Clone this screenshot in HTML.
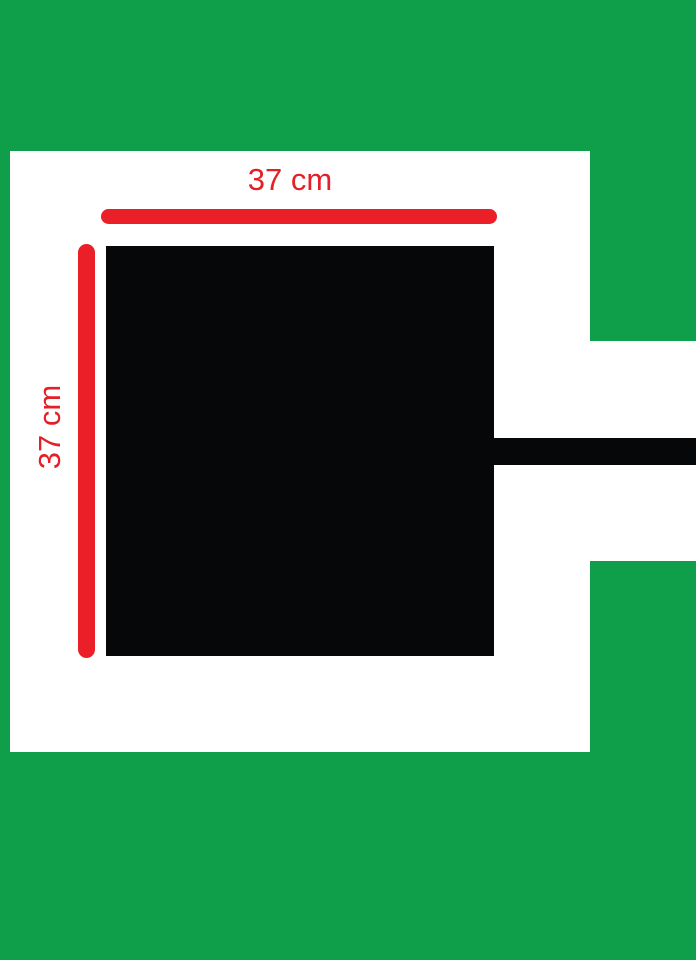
<!DOCTYPE html>
<html>
<head>
<meta charset="utf-8">
<style>
  html,body{margin:0;padding:0;}
  body{width:696px;height:960px;position:relative;overflow:hidden;background:#0f9f4b;font-family:"Liberation Sans",sans-serif;}
  .a{position:absolute;}
</style>
</head>
<body>
<div class="a" style="left:10px;top:151px;width:580px;height:601px;background:#fff;"></div>
<div class="a" style="left:589px;top:341px;width:107px;height:220px;background:#fff;"></div>
<div class="a" style="left:106px;top:246px;width:388px;height:410px;background:#060709;"></div>
<div class="a" style="left:493px;top:438px;width:203px;height:27px;background:#060709;"></div>
<div class="a" style="left:101px;top:209px;width:396px;height:15px;background:#ea1f27;border-radius:8px;"></div>
<div class="a" style="left:78px;top:244px;width:17px;height:414px;background:#ea1f27;border-radius:9px;"></div>
<div class="a" style="left:190px;top:162px;width:200px;text-align:center;font-size:31px;line-height:36px;color:#e42027;">37 cm</div>
<div class="a" style="left:-50px;top:409px;width:200px;text-align:center;font-size:31px;line-height:36px;color:#e42027;transform:rotate(-90deg);">37 cm</div>
</body>
</html>
